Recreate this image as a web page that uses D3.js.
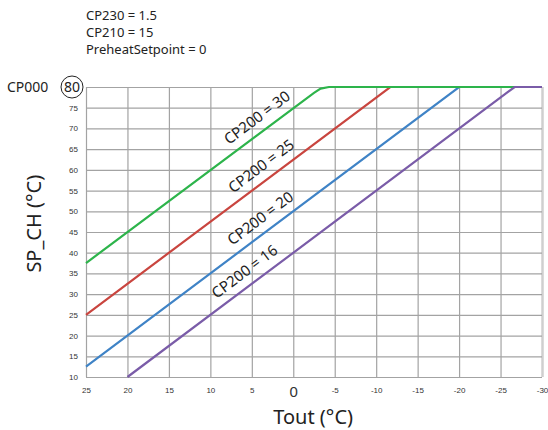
<!DOCTYPE html>
<html>
<head>
<meta charset="utf-8">
<script src="https://cdn.jsdelivr.net/npm/d3@7"></script>
<style>
  body { margin: 0; background: #fff; }
  svg { font-family: "Noto Sans", "DejaVu Sans", sans-serif; }
</style>
</head>
<body>
<svg id="chart" width="548" height="430"></svg>
<script>
// header parameters
const params = ["CP230 = 1.5", "CP210 = 15", "PreheatSetpoint = 0"];

// axis ticks
const xTicks = [25, 20, 15, 10, 5, 0, -5, -10, -15, -20, -25, -30];
const yTicks = [10, 15, 20, 25, 30, 35, 40, 45, 50, 55, 60, 65, 70, 75, 80];

// curves (Tout, SP_CH)
const seriesNames = ["CP200 = 25", "CP200 = 20", "CP200 = 30", "CP200 = 16"];
const seriesColors = ["#c9453f", "#3f83c6", "#2db44b", "#7a5ca8"];
const seriesTout = [
  [25, -11.7, -30],
  [25, -20, -30],
  [25, -2.5, -3.3, -4.3, -30],
  [20, -26.7, -30]
];
const seriesSP = [
  [25, 80, 80],
  [12.5, 80, 80],
  [37.5, 78.6, 79.6, 80, 80],
  [10, 80, 80]
];
// where along each curve the label sits (Tout)
const labelAt = [4.1, 4.2, 4.6, 6.1];

const margin = {top: 87, right: 6, bottom: 53, left: 86};
const width = 548 - margin.left - margin.right;
const height = 430 - margin.top - margin.bottom;

const svg = d3.select('#chart');
const g = svg.append('g')
  .attr('transform', `translate(${margin.left}, ${margin.top})`);

const xScale = d3.scaleLinear().domain([25, -30]).range([0, width]);
const yScale = d3.scaleLinear().domain([10, 80]).range([height, 0]);

// grid via axes
const xAxis = g.append('g')
  .attr('transform', `translate(0, ${height})`)
  .call(d3.axisBottom(xScale).tickValues(xTicks).tickSize(-height).tickPadding(6));
xAxis.select('.domain').remove();
xAxis.selectAll('line').attr('stroke', '#a3a3a3').attr('stroke-width', 1.2);
xAxis.selectAll('text')
  .attr('fill', '#333')
  .style('font-size', d => d === 0 ? '15px' : '8px')
  .attr('dy', d => d === 0 ? '0.9em' : '1.2em')
  .text(d => d === 0 ? '0' : d);
xAxis.selectAll('.tick').filter(d => d === -30).select('line')
  .attr('stroke', '#cfcfcf').attr('stroke-width', 2.5);

const yAxis = g.append('g')
  .call(d3.axisLeft(yScale).tickValues(yTicks).tickSize(-width).tickPadding(8)
    .tickFormat(d => d === 80 ? '' : d));
yAxis.select('.domain').remove();
yAxis.selectAll('line').attr('stroke', '#a3a3a3').attr('stroke-width', 1.2);
yAxis.selectAll('text').attr('fill', '#333').style('font-size', '8px');

// curves
const line = d3.line()
  .x(d => xScale(d[0]))
  .y(d => yScale(d[1]));

seriesNames.forEach((name, i) => {
  const pts = seriesTout[i].map((t, j) => [t, seriesSP[i][j]]);
  g.append('path')
    .datum(pts)
    .attr('fill', 'none')
    .attr('stroke', seriesColors[i])
    .attr('stroke-width', 2.2)
    .attr('d', line);
});

// labels along the curves
const angle = Math.atan2(yScale(10) - yScale(11.5), xScale(0) - xScale(1)) * 180 / Math.PI;
seriesNames.forEach((name, i) => {
  const t = labelAt[i];
  const ts = seriesTout[i], sp = seriesSP[i];
  const v = sp[0] + (sp[1] - sp[0]) * (ts[0] - t) / (ts[0] - ts[1]);
  const px = xScale(t), py = yScale(v);
  g.append('text')
    .attr('transform', `translate(${px + 5}, ${py - 15}) rotate(${-angle})`)
    .attr('text-anchor', 'middle')
    .attr('fill', '#222')
    .style('font-size', '15px')
    .text(name);
});

// circled 80 and CP000
g.append('circle')
  .attr('cx', -14).attr('cy', yScale(80))
  .attr('r', 11)
  .attr('fill', '#fff')
  .attr('stroke', '#222')
  .attr('stroke-width', 1);
g.append('text')
  .attr('x', -14).attr('y', yScale(80) + 5)
  .attr('text-anchor', 'middle')
  .attr('fill', '#222')
  .style('font-size', '14px')
  .text('80');
g.append('text')
  .attr('x', -79).attr('y', yScale(80) + 5)
  .attr('fill', '#222')
  .style('font-size', '14px')
  .text('CP000');

// axis titles
g.append('text')
  .attr('x', xScale(-2.4)).attr('y', height + 47)
  .attr('text-anchor', 'middle')
  .attr('fill', '#222')
  .style('font-size', '20px')
  .text('Tout (°C)');
g.append('text')
  .attr('transform', `translate(${-45}, ${yScale(47)}) rotate(-90)`)
  .attr('text-anchor', 'middle')
  .attr('fill', '#222')
  .style('font-size', '20px')
  .text('SP_CH (°C)');

// header parameters
svg.append('g')
  .selectAll('text')
  .data(params)
  .join('text')
    .attr('x', 86)
    .attr('y', (d, i) => 20 + i * 17)
    .attr('fill', '#222')
    .style('font-size', '13px')
    .text(d => d);
</script>
</body>
</html>
